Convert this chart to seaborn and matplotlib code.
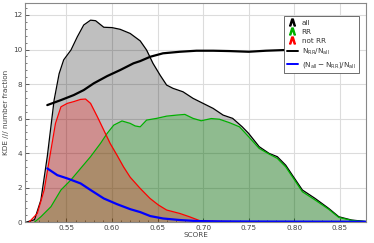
import numpy as np
import seaborn as sns
import matplotlib.pyplot as plt
from matplotlib.lines import Line2D
from matplotlib.ticker import MultipleLocator

# KDE curves
all_x = [0.506, 0.515, 0.522, 0.529, 0.5365, 0.542, 0.547, 0.555, 0.562, 0.569, 0.5765, 0.582,
         0.591, 0.600, 0.609, 0.620, 0.631, 0.638, 0.645, 0.653, 0.660, 0.667, 0.678, 0.689,
         0.700, 0.711, 0.722, 0.7325, 0.743, 0.750, 0.7616, 0.7725, 0.7815, 0.7907, 0.798,
         0.809, 0.823, 0.838, 0.849, 0.863, 0.876, 0.88]
all_y = [0, 0.14, 1.28, 3.8, 7.07, 8.6, 9.4, 9.97, 10.74, 11.42, 11.7, 11.67,
         11.29, 11.27, 11.17, 10.93, 10.5, 9.97, 9.2, 8.5, 7.94, 7.75, 7.55, 7.17,
         6.88, 6.59, 6.2, 6.01, 5.52, 5.14, 4.37, 3.98, 3.79, 3.3, 2.72,
         1.86, 1.37, 0.79, 0.31, 0.12, 0.05, 0.03]

rr_x = [0.515, 0.522, 0.533, 0.544, 0.5547, 0.5656, 0.5765, 0.5874, 0.5947, 0.602, 0.611, 0.620,
        0.6255, 0.631, 0.638, 0.649, 0.660, 0.671, 0.680, 0.689, 0.698, 0.709, 0.718, 0.729,
        0.740, 0.750, 0.7616, 0.7725, 0.7815, 0.7907, 0.798, 0.809, 0.823, 0.838, 0.849,
        0.863, 0.876, 0.88]
rr_y = [0, 0.31, 0.89, 1.86, 2.43, 3.11, 3.79, 4.56, 5.14, 5.62, 5.86, 5.72,
        5.57, 5.52, 5.91, 6.01, 6.14, 6.2, 6.24, 6.01, 5.87, 6.0, 5.96, 5.76,
        5.52, 4.95, 4.27, 3.94, 3.69, 3.2, 2.63, 1.76, 1.28, 0.74, 0.27,
        0.1, 0.04, 0.02]

notrr_x = [0.509, 0.518, 0.5256, 0.533, 0.538, 0.544, 0.551, 0.558, 0.5656, 0.571, 0.5765, 0.584,
           0.591, 0.598, 0.6055, 0.6127, 0.620, 0.631, 0.6418, 0.651, 0.660, 0.6745, 0.685,
           0.6965, 0.72, 0.75, 0.77]
notrr_y = [0, 0.5, 1.86, 4.17, 5.72, 6.68, 6.88, 6.98, 7.11, 7.13, 6.88, 6.1,
           5.33, 4.56, 3.88, 3.2, 2.6, 1.95, 1.37, 0.99, 0.7, 0.5, 0.31,
           0.08, 0.04, 0.02, 0.0]

# number fractions (scaled)
frac_rr_x = [0.529, 0.544, 0.558, 0.569, 0.580, 0.5947, 0.609, 0.6236, 0.631, 0.642, 0.656,
             0.6745, 0.6927, 0.711, 0.729, 0.750, 0.769, 0.790]
frac_rr_y = [6.78, 7.07, 7.36, 7.65, 8.04, 8.46, 8.81, 9.2, 9.33, 9.58, 9.78,
             9.87, 9.93, 9.93, 9.91, 9.87, 9.93, 9.97]

frac_not_x = [0.529, 0.540, 0.551, 0.5656, 0.5765, 0.591, 0.6055, 0.620, 0.631, 0.642, 0.656,
              0.6745, 0.693, 0.72, 0.78, 0.88]
frac_not_y = [3.11, 2.72, 2.53, 2.24, 1.86, 1.37, 1.04, 0.75, 0.58, 0.35, 0.21,
              0.12, 0.06, 0.04, 0.03, 0.02]

sns.set_style("whitegrid", {"grid.color": "#dcdcdc", "axes.edgecolor": "#888888"})
plt.rcParams['font.family'] = ['DejaVu Sans']

fig = plt.figure(figsize=(3.74, 2.43), dpi=100)
ax = fig.add_axes([0.067, 0.086, 0.912, 0.902])

green = '#00b000'
ax.fill_between(all_x, all_y, color='k', alpha=0.25, lw=0)
sns.lineplot(x=all_x, y=all_y, color='k', lw=0.9, estimator=None, sort=False, ax=ax)
ax.fill_between(rr_x, rr_y, color=green, alpha=0.25, lw=0)
sns.lineplot(x=rr_x, y=rr_y, color=green, lw=0.9, estimator=None, sort=False, ax=ax)
ax.fill_between(notrr_x, notrr_y, color='r', alpha=0.25, lw=0)
sns.lineplot(x=notrr_x, y=notrr_y, color='r', lw=0.9, estimator=None, sort=False, ax=ax)

sns.lineplot(x=frac_rr_x, y=frac_rr_y, color='k', lw=1.6, estimator=None, sort=False, ax=ax)
sns.lineplot(x=frac_not_x, y=frac_not_y, color='#0000ff', lw=1.6, estimator=None, sort=False, ax=ax)

ax.set_xlim(0.5046, 0.879)
ax.set_ylim(0, 12.7)
ax.set_xticks([0.55, 0.60, 0.65, 0.70, 0.75, 0.80, 0.85])
ax.set_xticklabels(['0.55', '0.60', '0.65', '0.70', '0.75', '0.80', '0.85'])
ax.set_yticks([0, 2, 4, 6, 8, 10, 12])
ax.xaxis.set_minor_locator(MultipleLocator(0.01))
ax.yaxis.set_minor_locator(MultipleLocator(0.4))
ax.tick_params(axis='both', which='major', labelsize=5.2, labelcolor='#444444',
               direction='in', length=3, width=0.6, color='#444444', pad=2,
               bottom=True, left=True)
ax.tick_params(axis='both', which='minor', direction='in', length=1.5, width=0.5,
               color='#444444', bottom=True, left=True)
ax.set_xlabel('SCORE', fontsize=5.2, color='#444444', labelpad=1)
ax.set_ylabel('KDE /// number fraction', fontsize=5.2, color='#444444', labelpad=3)
for s in ax.spines.values():
    s.set_linewidth(0.8)
ax.set_axisbelow(True)

handles = [
    Line2D([], [], ls='none', marker='$\\wedge$', color='k', markersize=5),
    Line2D([], [], ls='none', marker='$\\wedge$', color=green, markersize=5),
    Line2D([], [], ls='none', marker='$\\wedge$', color='r', markersize=5),
    Line2D([], [], color='k', lw=1.4),
    Line2D([], [], color='#0000ff', lw=1.4),
]
labels = ['all', 'RR', 'not RR', r'$\mathrm{N_{RR}/N_{all}}$',
          r'$\mathrm{(N_{all}-N_{RR})/N_{all}}$']
leg = ax.legend(handles, labels, loc='upper right', bbox_to_anchor=(0.99, 0.955),
                fontsize=5.2, frameon=True, fancybox=False, framealpha=1,
                edgecolor='#555555', handlelength=1.5, handletextpad=0.5,
                labelspacing=0.4, borderpad=0.45)
leg.get_frame().set_linewidth(0.6)
for t in leg.get_texts():
    t.set_color('#333333')

fig.savefig('out.png', dpi=100)
